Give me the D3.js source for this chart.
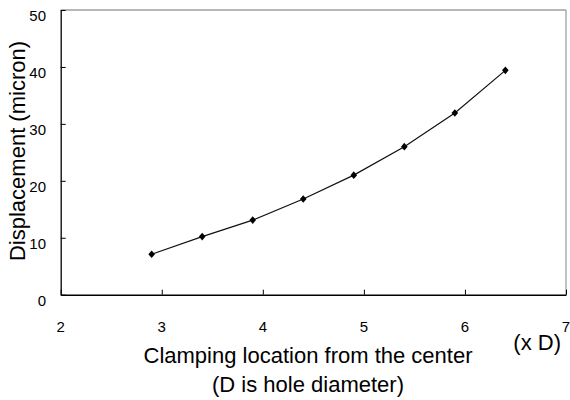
<!DOCTYPE html>
<html><head><meta charset="utf-8">
<script src="https://cdn.jsdelivr.net/npm/d3@7"></script>
<style>body{margin:0;background:#fff}svg{display:block}text{font-family:"Liberation Sans",Arial,sans-serif;fill:#000}</style>
</head><body>
<script>
const xValues = [2.9, 3.4, 3.9, 4.4, 4.9, 5.4, 5.9, 6.4];
const yValues = [7.1, 10.2, 13.1, 16.8, 21.0, 26.0, 31.9, 39.4];
const xTicks = [2, 3, 4, 5, 6, 7];
const yTicks = [0, 10, 20, 30, 40, 50];
const xTitle = ["Clamping location from the center", "(D is hole diameter)"];
const xUnit = "(x D)";
const yTitle = "Displacement (micron)";

const W = 570, H = 400;
const L = 60.7, R = 566, T = 10, B = 294.7;
const svg = d3.select("body").append("svg").attr("width", W).attr("height", H);
const x = d3.scaleLinear().domain([2, 7]).range([L, R]);
const y = d3.scaleLinear().domain([0, 50]).range([B, T]);

// gray top/right frame
svg.append("line").attr("x1", L).attr("x2", R).attr("y1", T).attr("y2", T).attr("stroke", "#a0a0a0").attr("stroke-width", 1.3);
svg.append("line").attr("x1", R).attr("x2", R).attr("y1", T).attr("y2", B).attr("stroke", "#a0a0a0").attr("stroke-width", 1.3);

// y axis
const ya = svg.append("g").attr("transform", `translate(${L},0)`)
  .call(d3.axisRight(y).tickValues(yTicks).tickSize(5).tickSizeOuter(0).tickFormat(""));
ya.select(".domain").attr("stroke", "#000").attr("stroke-width", 1.3);
ya.selectAll(".tick line").attr("stroke", "#000");
svg.selectAll(".ylab").data(yTicks).enter().append("text")
  .attr("x", 46).attr("y", d => y(d) + 11).attr("text-anchor", "end")
  .attr("font-size", 15).text(d => d);

// x axis
const xa = svg.append("g").attr("transform", `translate(0,${B})`)
  .call(d3.axisTop(x).tickValues(xTicks).tickSize(5).tickSizeOuter(0).tickFormat(""));
xa.select(".domain").attr("stroke", "#000").attr("stroke-width", 1.5);
xa.selectAll(".tick line").attr("stroke", "#000");
svg.selectAll(".xlab").data(xTicks).enter().append("text")
  .attr("x", d => x(d)).attr("y", 331.5).attr("text-anchor", "middle")
  .attr("font-size", 15).text(d => d);

// line + markers
const pts = xValues.map((v, i) => [v, yValues[i]]);
svg.append("path").datum(pts)
  .attr("d", d3.line().x(d => x(d[0])).y(d => y(d[1])))
  .attr("fill", "none").attr("stroke", "#111").attr("stroke-width", 1.2);
svg.selectAll(".pt").data(pts).enter().append("path")
  .attr("transform", d => `translate(${x(d[0])},${y(d[1])})`)
  .attr("d", "M0,-3.8L3.3,0L0,3.8L-3.3,0Z")
  .attr("fill", "#000");

// titles
svg.append("text").attr("x", 308).attr("y", 363).attr("text-anchor", "middle").attr("font-size", 22).text(xTitle[0]);
svg.append("text").attr("x", 308).attr("y", 392).attr("text-anchor", "middle").attr("font-size", 22).text(xTitle[1]);
svg.append("text").attr("x", 561).attr("y", 350).attr("text-anchor", "end").attr("font-size", 22).text(xUnit);
svg.append("text").attr("transform", "translate(25,151) rotate(-90)").attr("text-anchor", "middle").attr("font-size", 22).text(yTitle);
</script>
</body></html>
